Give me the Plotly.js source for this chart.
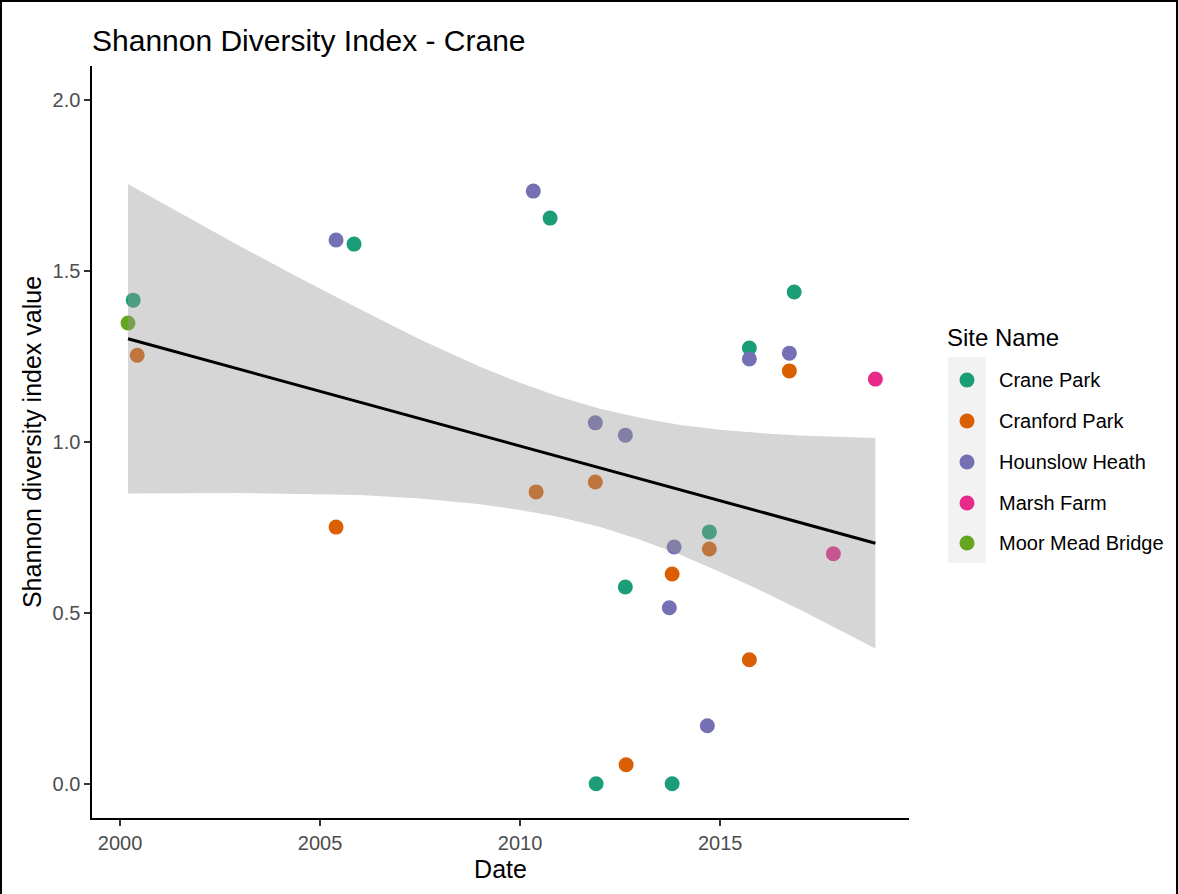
<!DOCTYPE html>
<html>
<head>
<meta charset="utf-8">
<script src="https://cdn.plot.ly/plotly-3.0.1.min.js"></script>
<style>
  html, body { margin: 0; padding: 0; background: #fff; }
  #wrap { position: relative; width: 1178px; height: 894px; }
  #chart { width: 1178px; height: 894px; }
  #frame { position: absolute; left: 0; top: 0; width: 1178px; height: 894px; box-sizing: border-box;
           border-left: 2px solid #000; border-top: 2px solid #000; border-right: 2px solid #000; pointer-events: none; }
</style>
</head>
<body>
<div id="wrap"><div id="chart"></div><div id="frame"></div></div>
<script>
// ---- data (decimal years, Shannon index) ----
const siteNames = ["Crane Park", "Cranford Park", "Hounslow Heath", "Marsh Farm", "Moor Mead Bridge"];
const siteColors = ["#1B9E77", "#D95F02", "#7570B3", "#E7298A", "#66A61E"];

const cranePark_x   = [2000.33, 2005.85, 2010.75, 2011.90, 2012.63, 2013.80, 2014.73, 2015.73, 2016.85];
const cranePark_y   = [1.415, 1.579, 1.655, 0.000, 0.576, 0.000, 0.737, 1.275, 1.439];
const cranford_x    = [2000.43, 2005.40, 2010.40, 2011.88, 2012.65, 2013.80, 2014.73, 2015.73, 2016.73];
const cranford_y    = [1.254, 0.751, 0.854, 0.883, 0.056, 0.614, 0.687, 0.363, 1.208];
const hounslow_x    = [2005.40, 2010.33, 2011.88, 2012.63, 2013.73, 2013.85, 2014.68, 2015.73, 2016.73];
const hounslow_y    = [1.591, 1.734, 1.056, 1.020, 0.515, 0.693, 0.170, 1.243, 1.260];
const marshFarm_x   = [2017.83, 2018.88];
const marshFarm_y   = [0.673, 1.184];
const moorMead_x    = [2000.20];
const moorMead_y    = [1.348];

const seriesX = [cranePark_x, cranford_x, hounslow_x, marshFarm_x, moorMead_x];
const seriesY = [cranePark_y, cranford_y, hounslow_y, marshFarm_y, moorMead_y];

// linear fit line and its confidence band
const fitX = [2000.2, 2018.88];
const fitY = [1.302, 0.704];
const bandX     = [2000.2, 2001.5, 2003.0, 2004.5, 2006.0, 2007.5, 2009.0, 2010.0, 2011.0, 2012.0, 2013.0, 2014.0, 2015.0, 2016.0, 2017.0, 2018.88];
const bandUpper = [1.755, 1.670, 1.573, 1.479, 1.388, 1.300, 1.220, 1.173, 1.132, 1.097, 1.071, 1.050, 1.036, 1.026, 1.019, 1.012];
const bandLower = [0.849, 0.850, 0.851, 0.849, 0.845, 0.835, 0.818, 0.801, 0.780, 0.751, 0.714, 0.670, 0.620, 0.566, 0.509, 0.396];

const xTickVals = [2000, 2005, 2010, 2015];
const xTickText = ["2000", "2005", "2010", "2015"];
const yTickVals = [0, 0.5, 1, 1.5, 2];
const yTickText = ["0.0", "0.5", "1.0", "1.5", "2.0"];

// ---- traces ----
const FONT = "Liberation Sans, Arial, sans-serif";
const traces = [];
for (let i = 0; i < siteNames.length; i++) {
  traces.push({
    type: "scatter", mode: "markers", name: siteNames[i],
    x: seriesX[i], y: seriesY[i],
    marker: { color: siteColors[i], size: 15, line: { width: 0 } },
    showlegend: false, hoverinfo: "x+y+name"
  });
}
traces.push({
  type: "scatter", mode: "lines",
  x: bandX.concat(bandX.slice().reverse()),
  y: bandUpper.concat(bandLower.slice().reverse()),
  fill: "toself", fillcolor: "rgba(153,153,153,0.4)",
  line: { width: 0, color: "rgba(0,0,0,0)" },
  showlegend: false, hoverinfo: "skip"
});
traces.push({
  type: "scatter", mode: "lines", x: fitX, y: fitY,
  line: { color: "#000000", width: 3 }, showlegend: false, hoverinfo: "skip"
});

// ---- layout ----
const L = 92, R = 909, T = 66, B = 818;
const px2x = p => (p - L) / (R - L);
const py2y = p => (B - p) / (B - T);

const shapes = [{
  type: "rect", xref: "paper", yref: "paper",
  x0: px2x(948), x1: px2x(986), y0: py2y(563), y1: py2y(357),
  fillcolor: "#F2F2F2", line: { width: 0 }, layer: "below"
}];
const annotations = [{
  xref: "paper", yref: "paper", x: px2x(945), y: py2y(337), xanchor: "left", yanchor: "middle",
  text: "Site Name", showarrow: false, font: { family: FONT, size: 24, color: "#000" }
}];
const rowY = [380, 421, 462, 503, 543];
for (let i = 0; i < siteNames.length; i++) {
  shapes.push({
    type: "circle", xref: "paper", yref: "paper",
    xsizemode: "pixel", ysizemode: "pixel",
    xanchor: px2x(967), yanchor: py2y(rowY[i]),
    x0: -7.5, x1: 7.5, y0: -7.5, y1: 7.5,
    fillcolor: siteColors[i], line: { width: 0 }
  });
  annotations.push({
    xref: "paper", yref: "paper", x: px2x(997), y: py2y(rowY[i]), xanchor: "left", yanchor: "middle",
    text: siteNames[i], showarrow: false, font: { family: FONT, size: 20, color: "#000" }
  });
}

const layout = {
  width: 1178, height: 894,
  margin: { l: L, r: 1178 - R, t: T, b: 894 - B, pad: 0 },
  paper_bgcolor: "#ffffff", plot_bgcolor: "#ffffff",
  font: { family: FONT, color: "#000" },
  title: {
    text: "Shannon Diversity Index - Crane",
    xref: "paper", x: 0, xanchor: "left",
    yref: "container", y: 1 - 40 / 894, yanchor: "middle",
    font: { family: FONT, size: 30, color: "#000" }
  },
  xaxis: {
    range: [1999.3, 2019.72], showgrid: false, zeroline: false,
    showline: true, linecolor: "#000", linewidth: 1.6,
    ticks: "outside", ticklen: 6, tickwidth: 1.5, tickcolor: "#333",
    tickvals: xTickVals, ticktext: xTickText,
    tickfont: { family: FONT, size: 20, color: "#4D4D4D" },
    title: { text: "Date", font: { family: FONT, size: 25, color: "#000" }, standoff: 8 }
  },
  yaxis: {
    range: [-0.1, 2.1], showgrid: false, zeroline: false,
    showline: true, linecolor: "#000", linewidth: 1.6,
    ticks: "outside", ticklen: 6, tickwidth: 1.5, tickcolor: "#333",
    tickvals: yTickVals, ticktext: yTickText,
    tickfont: { family: FONT, size: 20, color: "#4D4D4D" },
    title: { text: "Shannon diversity index value", font: { family: FONT, size: 25, color: "#000" }, standoff: 4 }
  },
  shapes: shapes,
  annotations: annotations,
  showlegend: false
};

Plotly.newPlot("chart", traces, layout, { displayModeBar: false, staticPlot: true });
</script>
</body>
</html>
